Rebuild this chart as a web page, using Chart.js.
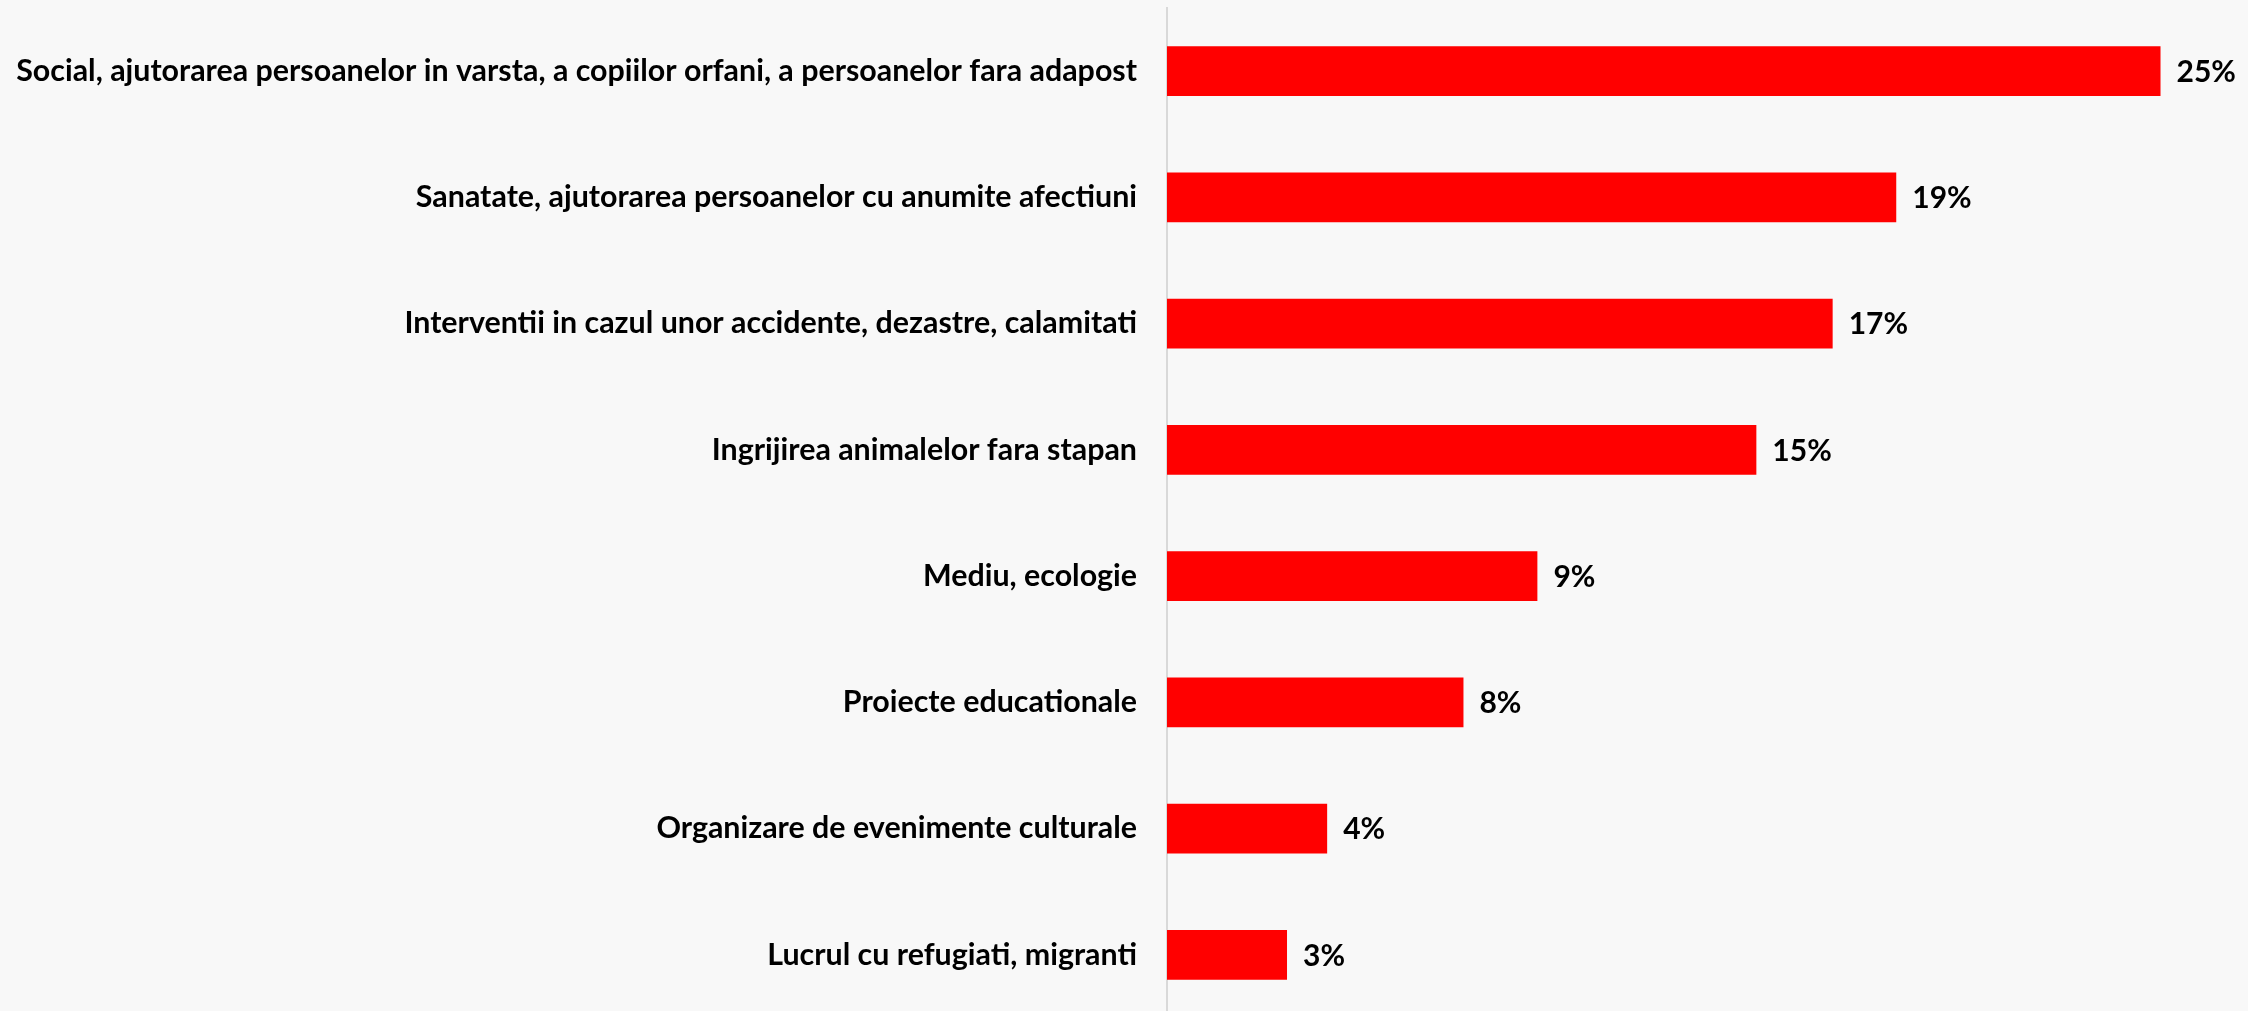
<!DOCTYPE html>
<html>
<head>
<meta charset="utf-8">
<script src="https://cdn.jsdelivr.net/npm/chart.js@4/dist/chart.umd.min.js"></script>
<style>
  html, body { margin: 0; padding: 0; background: #f8f8f8; overflow: hidden; }
  #wrap { position: relative; width: 2248px; height: 1019px; }
</style>
</head>
<body>
<div id="wrap"><canvas id="c"></canvas></div>
<script>
const categories = [
  'Social, ajutorarea persoanelor in varsta, a copiilor orfani, a persoanelor fara adapost',
  'Sanatate, ajutorarea persoanelor cu anumite afectiuni',
  'Interventii in cazul unor accidente, dezastre, calamitati',
  'Ingrijirea animalelor fara stapan',
  'Mediu, ecologie',
  'Proiecte educationale',
  'Organizare de evenimente culturale',
  'Lucrul cu refugiati, migranti'
];
const values = [25, 18.35, 16.75, 14.83, 9.32, 7.46, 4.03, 3.02];
const valueLabels = ['25%', '19%', '17%', '15%', '9%', '8%', '4%', '3%'];

const FONT = 'Lato';
const AXIS_X = 1167;

const valueLabelPlugin = {
  id: 'valueLabels',
  afterDatasetsDraw(chart) {
    const ctx = chart.ctx;
    const meta = chart.getDatasetMeta(0);
    ctx.save();
    ctx.font = 'bold 30px ' + FONT;
    ctx.fillStyle = '#000000';
    ctx.textAlign = 'left';
    ctx.textBaseline = 'middle';
    meta.data.forEach((bar, i) => {
      ctx.fillText(valueLabels[i], bar.x + 16, bar.y + 1);
    });
    ctx.restore();
  }
};

new Chart(document.getElementById('c'), {
  type: 'bar',
  data: {
    labels: categories,
    datasets: [{
      data: values,
      backgroundColor: '#ff0000',
      borderWidth: 0,
      barPercentage: 0.396,
      categoryPercentage: 1.0
    }]
  },
  options: {
    indexAxis: 'y',
    responsive: true,
    maintainAspectRatio: false,
    animation: false,
    layout: { padding: { top: 8, bottom: 1, left: 0, right: 8 } },
    plugins: {
      legend: { display: false },
      tooltip: { enabled: false }
    },
    scales: {
      x: {
        display: false,
        min: 0,
        max: 27
      },
      y: {
        grid: { display: false, drawTicks: false },
        border: { display: true, color: '#d9d9d9', width: 2 },
        ticks: {
          color: '#000000',
          padding: 30,
          font: { family: FONT, weight: 'bold', size: 30.4 }
        },
        afterFit(scale) {
          scale.width = AXIS_X;
          scale.paddingTop = 0;
          scale.paddingBottom = 0;
        }
      }
    }
  },
  plugins: [valueLabelPlugin]
});
</script>
</body>
</html>
